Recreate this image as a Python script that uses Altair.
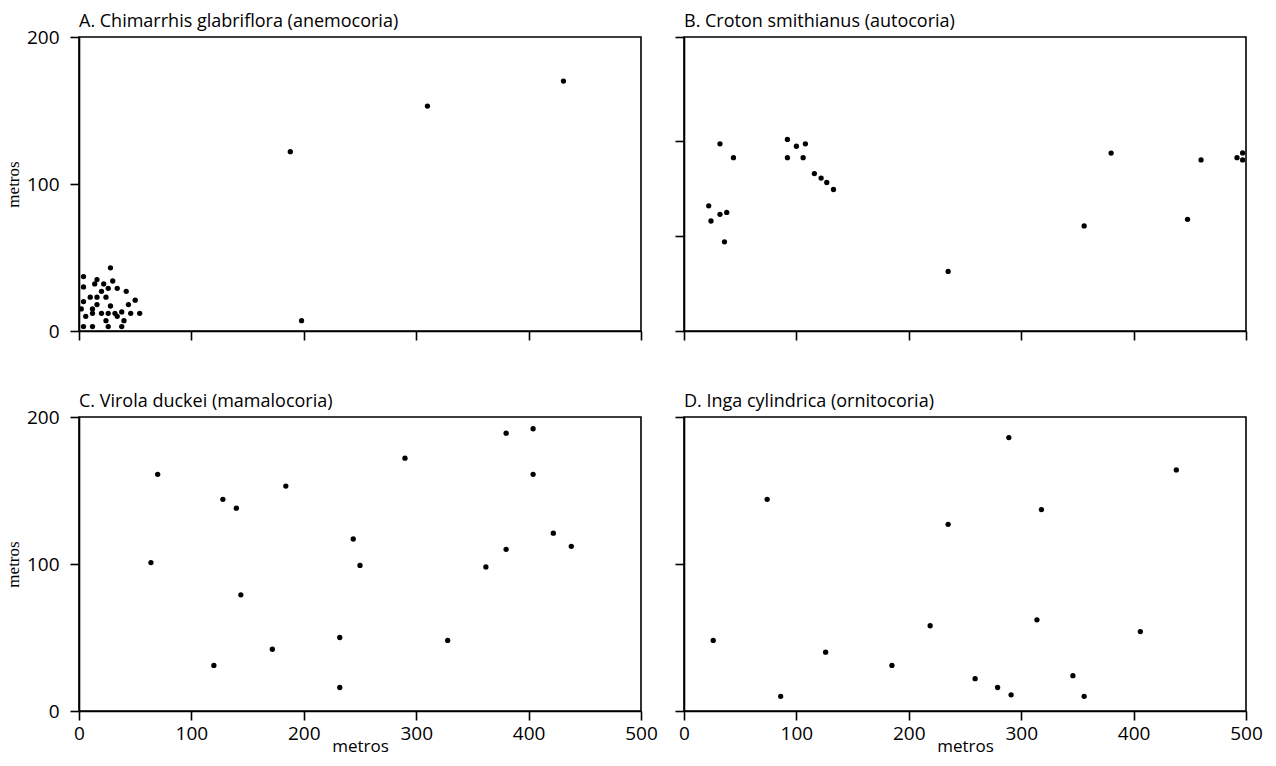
import altair as alt
import pandas as pd

# Panel A: Chimarrhis glabriflora (anemocoria)
a_x = [431, 310, 188, 198,
       28, 4, 16, 4, 14, 22, 30, 26, 34, 42, 20, 10, 16, 24, 50, 4, 16, 28, 44,
       12, 2, 12, 20, 26, 32, 38, 46, 54, 6, 34, 24, 40, 4, 12, 26, 38]
a_y = [170, 153, 122, 7,
       43, 37, 35, 30, 32, 32, 34, 29, 29, 27, 27, 23, 23, 23, 21, 20, 18, 17, 18,
       15, 15, 12, 12, 12, 12, 13, 12, 12, 10, 10, 7, 7, 3, 3, 3, 3]

# Panel B: Croton smithianus (autocoria)
b_x = [22, 24, 32, 38, 36, 32, 44, 92, 100, 108, 92, 106, 116, 122, 127, 133,
       235, 356, 380, 448, 460, 492, 497, 497]
b_y = [66, 58, 61.5, 62.5, 47, 98.7, 91.4, 101, 97.4, 98.7, 91.4, 91.4, 83, 80.6, 78.3, 74.6,
       31.4, 55.4, 93.8, 58.9, 90.2, 91.4, 93.9, 90.2]

# Panel C: Virola duckei (mamalocoria)
c_x = [64, 70, 128, 140, 144, 120, 172, 184, 232, 232, 244, 250, 290, 328, 362,
       380, 380, 404, 404, 422, 438]
c_y = [101, 161, 144, 138, 79, 31, 42, 153, 50, 16, 117, 99, 172, 48, 98,
       189, 110, 192, 161, 121, 112]

# Panel D: Inga cylindrica (ornitocoria)
d_x = [289, 438, 74, 318, 235, 314, 219, 406, 26, 126, 185, 259, 346, 279, 291, 86, 356]
d_y = [186, 164, 144, 137, 127, 62, 58, 54, 48, 40, 31, 22, 24, 16, 11, 10, 10]

titles = ["A. Chimarrhis glabriflora (anemocoria)",
          "B. Croton smithianus (autocoria)",
          "C. Virola duckei (mamalocoria)",
          "D. Inga cylindrica (ornitocoria)"]
x_ticks = [0, 100, 200, 300, 400, 500]
y_ticks = [0, 100, 200]
b_y_ticks = [0, 50, 100, 155]

SANS = "Open Sans"
SERIF = "Liberation Serif"


def panel(xs, ys, title, ydom, yvals, xlab, ylab):
    df = pd.DataFrame({"x": xs, "y": ys})
    xaxis = dict(values=x_ticks, labels=xlab, labelFlush=False, tickSize=9,
                 labelPadding=4, labelFontSize=19, labelFont=SANS,
                 domainColor="black", tickColor="black", domainWidth=1.6,
                 tickWidth=1.6, grid=False, labelColor="black")
    if xlab:
        xaxis.update(title="metros", titleFont=SANS, titleFontSize=17,
                     titleFontWeight="normal", titlePadding=-5, titleColor="black")
    else:
        xaxis.update(title=None)
    yaxis = dict(values=yvals, labels=ylab, labelFlush=False, tickSize=9,
                 labelPadding=11, labelFontSize=19, labelFont=SANS,
                 domainColor="black", tickColor="black", domainWidth=1.6,
                 tickWidth=1.6, grid=False, labelColor="black")
    if ylab:
        yaxis.update(title="metros", titleFont=SERIF, titleFontSize=17,
                     titleFontWeight="normal", titlePadding=4, titleColor="black")
    else:
        yaxis.update(title=None)
    points = alt.Chart(df).mark_circle(size=28, color="black", opacity=1).encode(
        x=alt.X("x:Q", scale=alt.Scale(domain=[0, 500], nice=False, zero=False),
                axis=alt.Axis(**xaxis)),
        y=alt.Y("y:Q", scale=alt.Scale(domain=ydom, nice=False, zero=False),
                axis=alt.Axis(**yaxis)),
    )
    label = alt.Chart(pd.DataFrame({"t": [title]})).mark_text(
        align="left", baseline="alphabetic", font=SANS, fontSize=18, color="black"
    ).encode(text="t:N", x=alt.value(0), y=alt.value(-10))
    return alt.layer(points, label).properties(width=562, height=294)


pA = panel(a_x, a_y, titles[0], [0, 200], y_ticks, False, True)
pB = panel(b_x, b_y, titles[1], [0, 155], b_y_ticks, False, False)
pC = panel(c_x, c_y, titles[2], [0, 200], y_ticks, True, True)
pD = panel(d_x, d_y, titles[3], [0, 200], y_ticks, True, False)

chart = alt.concat(pA, pB, pC, pD, columns=2, spacing={"row": 86, "column": 43},
                   bounds="flush").properties(
    padding={"left": 3, "top": 12, "right": 5, "bottom": 0},
    background="white",
).configure_view(stroke="black", strokeWidth=1.6)

chart.save("out.html", embed_options={"renderer": "svg", "actions": False})
